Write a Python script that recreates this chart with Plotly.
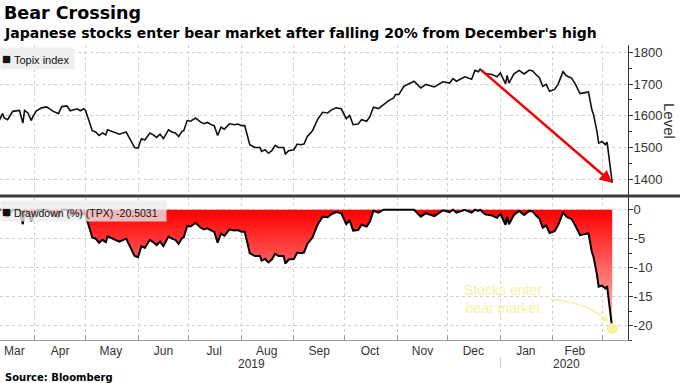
import plotly.graph_objects as go

# ---------------- data ----------------
dates = [
    "2019-03-11", "2019-03-13", "2019-03-14", "2019-03-16", "2019-03-19", "2019-03-23", "2019-03-25", "2019-03-26", "2019-03-28", "2019-03-30", "2019-03-31",
    "2019-04-02", "2019-04-05", "2019-04-08", "2019-04-12", "2019-04-15", "2019-04-17", "2019-04-20", "2019-04-22", "2019-04-26", "2019-04-28", "2019-04-30",
    "2019-05-01", "2019-05-05", "2019-05-07", "2019-05-09", "2019-05-11", "2019-05-13", "2019-05-14", "2019-05-17", "2019-05-21", "2019-05-25", "2019-05-27", "2019-05-30",
    "2019-06-01", "2019-06-03", "2019-06-05", "2019-06-08", "2019-06-10", "2019-06-12", "2019-06-14", "2019-06-16", "2019-06-19", "2019-06-21", "2019-06-23", "2019-06-25", "2019-06-27", "2019-06-28", "2019-06-30",
    "2019-07-02", "2019-07-05", "2019-07-08", "2019-07-10", "2019-07-12", "2019-07-15", "2019-07-16", "2019-07-18", "2019-07-20", "2019-07-22", "2019-07-25", "2019-07-28", "2019-07-30",
    "2019-08-01", "2019-08-03", "2019-08-06", "2019-08-09", "2019-08-12", "2019-08-13", "2019-08-15", "2019-08-17", "2019-08-19", "2019-08-21", "2019-08-23", "2019-08-26", "2019-08-27", "2019-08-29",
    "2019-09-01", "2019-09-03", "2019-09-05", "2019-09-07", "2019-09-09", "2019-09-12", "2019-09-15", "2019-09-18", "2019-09-21", "2019-09-23", "2019-09-26", "2019-09-29",
    "2019-10-02", "2019-10-04", "2019-10-06", "2019-10-09", "2019-10-11", "2019-10-14", "2019-10-16", "2019-10-18", "2019-10-21", "2019-10-24", "2019-10-27", "2019-10-30", "2019-10-31",
    "2019-11-02", "2019-11-05", "2019-11-08", "2019-11-11", "2019-11-15", "2019-11-18", "2019-11-23", "2019-11-28",
    "2019-12-02", "2019-12-04", "2019-12-06", "2019-12-11", "2019-12-15", "2019-12-17", "2019-12-19", "2019-12-20", "2019-12-23", "2019-12-27", "2019-12-30",
    "2020-01-01", "2020-01-04", "2020-01-05", "2020-01-06", "2020-01-09", "2020-01-12", "2020-01-15", "2020-01-18", "2020-01-20", "2020-01-22", "2020-01-24", "2020-01-26", "2020-01-28", "2020-01-30",
    "2020-02-02", "2020-02-04", "2020-02-07", "2020-02-09", "2020-02-12", "2020-02-14", "2020-02-17", "2020-02-20", "2020-02-22", "2020-02-24", "2020-02-25", "2020-02-27", "2020-02-28",
    "2020-03-01", "2020-03-03", "2020-03-04", "2020-03-05", "2020-03-07",
]

topix = [
    1585, 1607, 1593, 1588, 1614, 1617, 1577, 1617, 1609, 1585, 1598,
    1616, 1625, 1628, 1614, 1607, 1629, 1631, 1616, 1622, 1616, 1622,
    1617, 1553, 1549, 1538, 1546, 1540, 1556, 1549, 1542, 1549, 1528, 1500,
    1498, 1528, 1524, 1546, 1540, 1532, 1542, 1528, 1556, 1549, 1546, 1535, 1551, 1553, 1585,
    1583, 1593, 1580, 1575, 1579, 1570, 1569, 1538, 1564, 1558, 1575, 1572, 1574,
    1569, 1569, 1509, 1500, 1500, 1488, 1493, 1482, 1490, 1507, 1500, 1500, 1480, 1490,
    1493, 1511, 1509, 1511, 1535, 1553, 1588, 1611, 1609, 1618, 1625, 1622,
    1591, 1601, 1572, 1574, 1588, 1583, 1598, 1627, 1623, 1635, 1648, 1656, 1667,
    1667, 1693, 1701, 1709, 1688, 1699, 1691, 1707,
    1703, 1717, 1709, 1723, 1715, 1743, 1739, 1747, 1733, 1730, 1723,
    1735, 1701, 1727, 1703, 1732, 1743, 1732, 1744, 1741, 1730, 1720, 1693, 1699, 1677,
    1683, 1699, 1739, 1726, 1719, 1702, 1670, 1673, 1675, 1619, 1603, 1551, 1514,
    1519, 1509, 1517, 1477, 1389,
]

drawdown = [
    0, 0, -0.9, -1.2, 0, 0, -2.5, 0, -0.5, -2.0, -1.2,
    -0.1, 0, 0, -0.9, -1.3, 0, 0, -0.9, -0.6, -0.9, -0.6,
    -0.9, -4.8, -5.0, -5.7, -5.2, -5.6, -4.6, -5.0, -5.5, -5.0, -6.3, -8.0,
    -8.2, -6.3, -6.6, -5.2, -5.6, -6.1, -5.5, -6.3, -4.6, -5.0, -5.2, -5.9, -4.9, -4.8, -2.8,
    -2.9, -2.3, -3.1, -3.4, -3.2, -3.7, -3.8, -5.7, -4.1, -4.5, -3.4, -3.6, -3.5,
    -3.8, -3.8, -7.5, -8.0, -8.0, -8.8, -8.5, -9.1, -8.6, -7.6, -8.0, -8.0, -9.3, -8.6,
    -8.5, -7.4, -7.5, -7.4, -5.9, -4.8, -2.6, -1.2, -1.3, -0.8, -0.4, -0.6,
    -2.5, -1.8, -3.6, -3.5, -2.6, -2.9, -2.0, -0.2, -0.5, 0, 0, 0, 0,
    0, 0, 0, 0, -1.2, -0.6, -1.1, -0.1,
    -0.4, 0, -0.5, 0, -0.5, 0, -0.2, 0, -0.8, -1.0, -1.4,
    -0.7, -2.6, -1.1, -2.5, -0.9, -0.2, -0.9, -0.2, -0.3, -1.0, -1.5, -3.1, -2.7, -4.0,
    -3.7, -2.7, -0.5, -1.2, -1.6, -2.6, -4.4, -4.2, -4.1, -7.3, -8.2, -11.2, -13.3,
    -13.1, -13.6, -13.2, -15.5, -20.5031,
]

month_starts = ["2019-04-01", "2019-05-01", "2019-06-01", "2019-07-01", "2019-08-01", "2019-09-01",
                "2019-10-01", "2019-11-01", "2019-12-01", "2020-01-01", "2020-02-01", "2020-03-01"]
month_label_dates = ["2019-03-20", "2019-04-16", "2019-05-16", "2019-06-16", "2019-07-16", "2019-08-16",
                     "2019-09-16", "2019-10-16", "2019-11-16", "2019-12-16", "2020-01-16", "2020-02-14"]
month_labels = ["Mar", "Apr", "May", "Jun", "Jul", "Aug", "Sep", "Oct", "Nov", "Dec", "Jan", "Feb"]
year_labels = ["2019", "2020"]
year_label_dates = ["2019-08-07", "2020-02-09"]
year_break_date = "2020-01-01"
level_ticks = [1400, 1500, 1600, 1700, 1800]
dd_ticks = [0, -5, -10, -15, -20]
dd_ticktext = ["0", "-5", "-10", "-15", "-20"]

peak_idx = topix.index(max(topix))

# ---------------- styling ----------------
X_RANGE = ["2019-03-11 12:00", "2020-03-16 08:00"]
GRID = "#cfcfcf"
TICKFONT = dict(family="Liberation Sans", size=13, color="#333")
YELLOW = "#f6f2a4"
W, H = 680, 383
ML, MR, MT, MB = 0, 52, 45, 43
PW, PH = W - ML - MR, H - MT - MB


def px(xp):
    return (xp - ML) / PW


def py(yp):
    return (H - MB - yp) / PH


fig = go.Figure()

fig.add_trace(go.Scatter(
    x=dates, y=topix, mode="lines", line=dict(color="#111111", width=1.6),
    xaxis="x", yaxis="y", hoverinfo="skip"))

fig.add_trace(go.Scatter(
    x=dates, y=drawdown, mode="lines", fill="tozeroy",
    fillgradient=dict(type="vertical",
                      colorscale=[[0, "rgb(255,205,205)"], [1, "rgb(255,0,0)"]],
                      start=-20.5, stop=0),
    line=dict(color="#000000", width=2),
    xaxis="x2", yaxis="y2", hoverinfo="skip"))

fig.add_trace(go.Scatter(
    x=[dates[-1]], y=[drawdown[-1]], mode="markers",
    marker=dict(size=11, color=YELLOW), xaxis="x2", yaxis="y2", hoverinfo="skip"))

fig.update_layout(
    width=W, height=H,
    margin=dict(l=ML, r=MR, t=MT, b=MB),
    paper_bgcolor="white", plot_bgcolor="white",
    showlegend=False,
    font=dict(family="Liberation Sans", color="#333"),
    xaxis=dict(domain=[0, 1], anchor="y", type="date", range=X_RANGE,
               tickvals=month_starts, showticklabels=False, ticks="",
               showgrid=True, gridcolor=GRID, griddash="dot", gridwidth=1,
               zeroline=False, showline=False),
    xaxis2=dict(domain=[0, 1], anchor="y2", type="date", range=X_RANGE, matches="x",
                tickvals=month_label_dates, ticktext=month_labels, ticks="",
                showgrid=False, showline=True, linecolor="#999", linewidth=1,
                tickfont=dict(family="Liberation Sans", size=12, color="#333"),
                minor=dict(tickvals=month_starts, ticks="inside", ticklen=5, tickcolor="#999",
                           showgrid=True, gridcolor=GRID, griddash="dot")),
    yaxis=dict(domain=[py(195), 1], anchor="x", side="right", range=[1350.6, 1823],
               tickvals=level_ticks, ticks="outside", ticklen=4, tickcolor="#333",
               ticklabelstandoff=-2,
               showline=True, linecolor="#333", linewidth=1,
               showgrid=True, gridcolor=GRID, griddash="dot", zeroline=False,
               tickfont=TICKFONT,
               minor=dict(dtick=50, tick0=0, ticks="outside", ticklen=3, tickcolor="#333",
                          showgrid=False)),
    yaxis2=dict(domain=[0, py(197)], anchor="x2", side="right", range=[-22.5, 2.2],
                tickvals=dd_ticks, ticktext=dd_ticktext, ticks="outside", ticklen=4,
                ticklabelstandoff=-2,
                tickcolor="#333", showline=True, linecolor="#333", linewidth=1,
                showgrid=True, gridcolor=GRID, griddash="dot", zeroline=False,
                tickfont=TICKFONT,
                minor=dict(dtick=2.5, tick0=0, ticks="outside", ticklen=3, tickcolor="#333",
                           showgrid=False)),
)

shapes = [
    # panel separator
    dict(type="line", xref="paper", yref="paper", x0=px(0), x1=px(680), y0=py(196), y1=py(196),
         line=dict(color="#3c3c3c", width=3)),
    # year separator on the axis
    dict(type="line", xref="x2", yref="paper", x0=year_break_date, x1=year_break_date,
         y0=py(357), y1=py(368), line=dict(color="#c8c8c8", width=1)),
    # curved pointer to the bear-market point
    dict(type="path", xref="paper", yref="paper",
         path=f"M {px(550)},{py(299)} Q {px(590)},{py(303)} {px(607)},{py(321)}",
         line=dict(color=YELLOW, width=1.5)),
    dict(type="path", xref="paper", yref="paper",
         path=f"M {px(605.4)},{py(314.2)} L {px(607)},{py(321)} L {px(600.3)},{py(319)}",
         line=dict(color=YELLOW, width=1.5)),
]
fig.update_layout(shapes=shapes)

SQ = '<span style="font-size:15px">■</span>'
annotations = [
    dict(text="<b>Bear Crossing</b>", xref="paper", yref="paper", x=px(2), y=py(1),
         xanchor="left", yanchor="top", showarrow=False,
         font=dict(family="DejaVu Sans", size=17.5, color="#000")),
    dict(text="<b>Japanese stocks enter bear market after falling 20% from December's high</b>",
         xref="paper", yref="paper", x=px(2), y=py(23), xanchor="left", yanchor="top",
         showarrow=False, font=dict(family="DejaVu Sans", size=14, color="#000")),
    dict(text="<b>Source: Bloomberg</b>", xref="paper", yref="paper", x=px(3), y=py(370),
         xanchor="left", yanchor="top", showarrow=False,
         font=dict(family="DejaVu Sans", size=10, color="#000")),
    # legend boxes
    dict(text=SQ + " Topix index", xref="paper", yref="paper", x=px(0), y=py(47),
         xanchor="left", yanchor="top", showarrow=False, align="left",
         width=71, height=19, bgcolor="#efefef", borderpad=1,
         font=dict(family="Liberation Sans", size=11, color="#111")),
    dict(text=SQ + " Drawdown (%) (TPX) -20.5031", xref="paper", yref="paper", x=px(0), y=py(200),
         xanchor="left", yanchor="top", showarrow=False, align="left",
         width=163, height=18, bgcolor="rgba(236,236,236,0.78)", borderpad=1,
         font=dict(family="Liberation Sans", size=10.5, color="#111")),
    # red arrow from December high to latest close
    dict(x=dates[-1], y=topix[-1], ax=dates[peak_idx], ay=topix[peak_idx],
         xref="x", yref="y", axref="x", ayref="y", text="", showarrow=True,
         arrowhead=2, arrowsize=1, arrowwidth=2.5, arrowcolor="#f00000"),
    # axis title
    dict(text="Level", xref="paper", yref="paper", x=px(670), y=py(121), textangle=90,
         xanchor="center", yanchor="middle",
         showarrow=False, font=dict(family="Liberation Sans", size=15, color="#333")),
    # note
    dict(text="Stocks enter<br>bear market", xref="paper", yref="paper", x=px(503), y=py(299),
         xanchor="center", yanchor="middle", showarrow=False, align="center",
         font=dict(family="Liberation Sans", size=14, color=YELLOW)),
]
for lbl, d in zip(year_labels, year_label_dates):
    annotations.append(dict(text=lbl, xref="x2", yref="paper", x=d, y=py(364),
                            xanchor="center", yanchor="middle", showarrow=False,
                            font=dict(family="Liberation Sans", size=12, color="#333")))
fig.update_layout(annotations=annotations)

fig.write_html("out.html", config={"displayModeBar": False},
               post_script="document.body.style.margin='0';")
